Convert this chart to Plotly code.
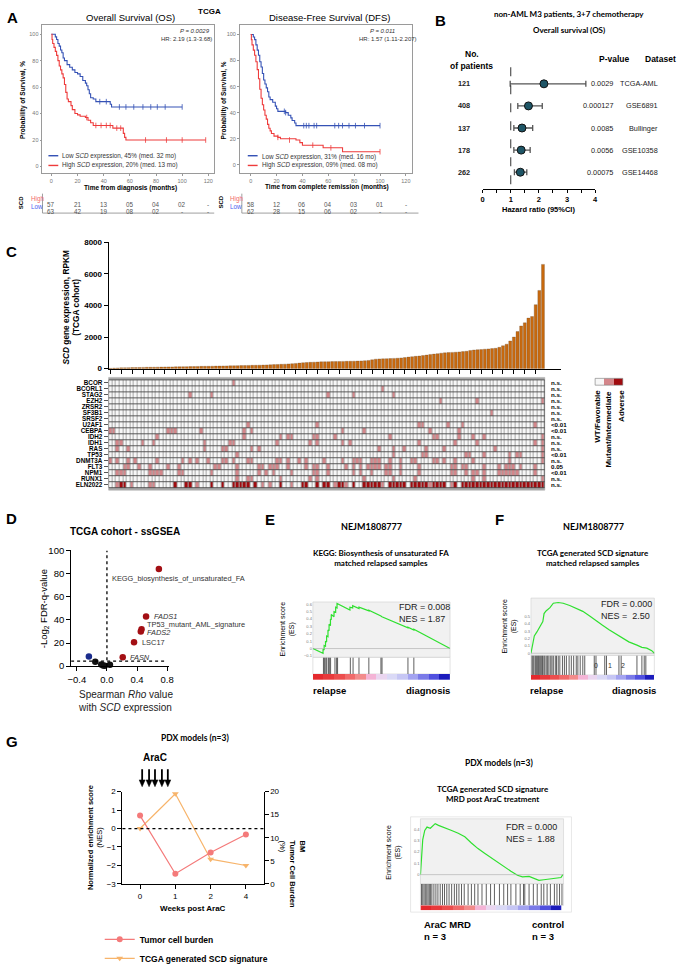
import plotly.graph_objects as go

W, H = 685, 973
ARIAL = "Liberation Sans, Arial, sans-serif"
CAL = "Lato, Liberation Sans, sans-serif"

# ---------------- A: Kaplan-Meier curves (TCGA) ----------------
OS_LOW_T = [0, 3, 4, 5, 6, 7, 8, 9, 10, 12, 14, 16, 18, 20, 22, 24, 26, 27, 28, 29, 30, 32, 34, 45, 46, 100]
OS_LOW_S = [100, 98, 96, 93, 91, 88, 86, 82, 80, 77, 75, 73, 71, 70, 68, 65, 63, 61, 58, 55, 52, 51, 49, 47, 45, 45]
OS_HIGH_T = [0, 0.5, 1, 2, 3, 4, 5, 6, 7, 8, 9, 10, 11, 12, 13, 15, 16, 18, 20, 22, 26, 28, 30, 32, 47, 55, 56, 57, 118]
OS_HIGH_S = [100, 96, 93, 90, 87, 84, 80, 76, 73, 70, 67, 62, 56, 51, 49, 46, 43, 40, 39, 38, 37, 35, 33, 31, 29, 25, 22, 20, 20]
OS_LOW_CT = [37, 42, 52, 57, 63, 70, 76, 81, 87, 100]
OS_LOW_CS = [49, 49, 45, 45, 45, 45, 45, 45, 45, 45]
OS_HIGH_CT = [27, 34, 38, 42, 45, 50, 53, 72, 88, 100, 118]
OS_HIGH_CS = [37, 31, 31, 31, 31, 29, 29, 20, 20, 20, 20]

DFS_LOW_T = [0, 2, 3, 4, 5, 6, 7, 8, 9, 10, 11, 12, 13, 14, 15, 17, 19, 20, 21, 27, 29, 31, 32, 34, 35, 100]
DFS_LOW_S = [100, 98, 96, 92, 88, 84, 79, 75, 70, 65, 62, 59, 56, 52, 50, 48, 45, 43, 41, 40, 38, 36, 34, 32, 30, 30]
DFS_HIGH_T = [0, 0.5, 1, 2, 3, 4, 5, 6, 7, 8, 9, 10, 11, 12, 13, 14, 15, 16, 18, 21, 23, 35, 38, 40, 56, 71, 100]
DFS_HIGH_S = [100, 96, 92, 88, 84, 79, 73, 66, 58, 51, 46, 42, 38, 35, 31, 28, 26, 24, 22, 21, 20, 19, 17, 15, 13, 10, 10]
DFS_LOW_CT = [26, 27, 41, 43, 45, 49, 51, 65, 68, 71, 76, 81, 88, 100]
DFS_LOW_CS = [41, 40, 30, 30, 30, 30, 30, 30, 30, 30, 30, 30, 30, 30]
DFS_HIGH_CT = [21, 30, 48, 62, 100]
DFS_HIGH_CS = [21, 19, 15, 13, 10]

RISK_TIMES = [0, 20, 40, 60, 80, 100, 120]
OS_RISK_HIGH = ["57", "21", "13", "05", "04", "02", "-"]
OS_RISK_LOW = ["63", "42", "19", "08", "02", "-", "-"]
DFS_RISK_HIGH = ["58", "12", "06", "04", "03", "01", "-"]
DFS_RISK_LOW = ["62", "28", "15", "06", "02", "-", "-"]

# ---------------- B: forest plot ----------------
B_PATIENTS = ["121", "408", "137", "178", "262"]
B_HR = [2.18, 1.63, 1.40, 1.37, 1.34]
B_LO = [0.98, 1.25, 1.11, 1.11, 1.13]
B_HI = [3.67, 2.12, 1.78, 1.69, 1.57]
B_PVAL = ["0.0029", "0.000127", "0.0085", "0.0056", "0.00075"]
B_DATASET = ["TCGA-AML", "GSE6891", "Bullinger", "GSE10358", "GSE14468"]

# ---------------- C: SCD expression + mutation map ----------------
SCD_RPKM = [20, 35, 45, 55, 60, 65, 70, 72, 75, 80,
            85, 88, 90, 95, 100, 105, 110, 112, 115, 120,
            125, 128, 130, 135, 140, 145, 148, 150, 155, 160,
            165, 170, 175, 180, 185, 190, 195, 200, 205, 210,
            215, 220, 228, 235, 245, 255, 265, 275, 285, 300,
            315, 330, 350, 375, 390, 400, 410, 420, 430, 435,
            440, 445, 450, 455, 460, 465, 470, 475, 480, 490,
            500, 520, 560, 600, 615, 620, 630, 640, 650, 660,
            680, 700, 730, 760, 780, 800, 830, 860, 900, 920,
            950, 980, 1000, 1020, 1030, 1040, 1060, 1080, 1100, 1150,
            1180, 1200, 1210, 1230, 1250, 1270, 1290, 1350, 1450, 1550,
            1750, 2000, 2350, 2700, 2900, 3200, 3300, 4050, 4950, 6600]

GENES = ["BCOR", "BCORL1", "STAG2", "EZH2", "ZRSR2", "SF3B1", "SRSF2", "U2AF1", "CEBPA",
         "IDH2", "IDH1", "RAS", "TP53", "DNMT3A", "FLT3", "NPM1", "RUNX1", "ELN2022"]
PVALS = ["n.s.", "n.s.", "n.s.", "n.s.", "n.s.", "n.s.", "n.s.", "&lt;0.01", "&lt;0.01",
         "n.s.", "n.s.", "n.s.", "&lt;0.01", "n.s.", "0.05", "&lt;0.01", "n.s.", "n.s."]
MUT_BCOR = [34]
MUT_BCORL1 = [75]
MUT_STAG2 = [22, 28, 60, 67, 78]
MUT_EZH2 = [91, 101, 119]
MUT_ZRSR2 = []
MUT_SF3B1 = [105]
MUT_SRSF2 = []
MUT_U2AF1 = [38, 57, 85, 86, 93, 97, 117]
MUT_CEBPA = [0, 1, 16, 17, 18, 25, 37, 39, 64, 70, 88, 96]
MUT_IDH2 = [13, 37, 47, 49, 50, 56, 57, 62, 77, 89, 90, 96, 100, 103, 119]
MUT_IDH1 = [2, 3, 9, 12, 26, 33, 34, 46, 55, 57, 64, 66, 85, 95, 101, 117, 119]
MUT_RAS = [2, 5, 26, 31, 32, 39, 41, 74, 78, 81, 87, 92, 106, 119]
MUT_TP53 = [35, 78, 86, 87, 98, 99, 103, 110, 112, 113, 119]
MUT_DNMT3A = [0, 2, 5, 7, 13, 20, 22, 24, 27, 31, 32, 34, 38, 39, 46, 47, 49, 52, 54, 59, 64, 67, 68,
              69, 72, 73, 74, 77, 80, 83, 84, 89, 90, 92, 95, 100, 110, 119]
MUT_FLT3 = [4, 5, 8, 11, 16, 19, 29, 30, 35, 41, 42, 44, 45, 46, 49, 54, 56, 57, 60, 65, 67, 69, 71,
            72, 73, 74, 76, 77, 80, 85, 94, 95, 97, 98, 103, 107, 109, 110, 111, 113, 117]
MUT_NPM1 = [2, 3, 4, 11, 12, 13, 14, 19, 20, 28, 35, 41, 43, 45, 50, 56, 57, 60, 67, 69, 72, 76, 77,
            80, 85, 94, 95, 98, 100, 101, 103, 107, 108, 109, 110, 111, 112, 117]
MUT_RUNX1 = [35, 38, 39, 47, 55, 57, 70, 78, 84, 100, 103, 119]
ELN_ADVERSE = [3, 4, 18, 21, 22, 28, 31, 34, 35, 36, 37, 38, 40, 47, 53, 54, 57, 59, 60, 63, 64, 67,
               70, 71, 72, 73, 74, 77, 78, 79, 80, 81, 83, 84, 85, 86, 87, 89, 90, 91, 92, 95, 97,
               98, 99, 100, 101, 102, 103, 104, 105, 106, 107, 108, 109, 110, 111, 112, 113, 114,
               115, 116, 117, 118, 119]
ELN_INTERMEDIATE = [2, 6, 11, 12, 24, 42, 44, 50, 62, 65, 75, 88, 94]

# ---------------- D: ssGSEA correlation ----------------
D_UP_RHO = [0.69, 0.52, 0.46, 0.45, 0.36, 0.21]
D_UP_Q = [84, 43, 32, 30, 20.7, 7.8]
D_DOWN_RHO = [-0.24]
D_DOWN_Q = [8.4]
D_NS_RHO = [-0.155, -0.076, -0.05, -0.03, 0.04]
D_NS_Q = [3.9, 1.5, 0.5, 0.3, 1.2]

# ---------------- E / F / G: GSEA running scores ----------------
E_RANK = [0, 7.4, 7.4, 8.2, 8.2, 9.2, 9.2, 10, 10, 11, 11, 11.8, 11.8, 12.8, 12.8, 13.4, 13.4,
          15.4, 15.4, 16.6, 16.6, 17.6, 17.6, 27, 27, 29, 29, 33.6, 33.6, 40.8, 40.8, 49.6, 50.3,
          69.3, 69.3, 73.6, 73.6, 100]
E_ES = [0, -0.065, -0.01, -0.02, 0.04, 0.03, 0.10, 0.09, 0.17, 0.16, 0.25, 0.24, 0.33, 0.31, 0.40,
        0.39, 0.46, 0.43, 0.50, 0.49, 0.56, 0.55, 0.61, 0.52, 0.56, 0.55, 0.58, 0.54, 0.56, 0.51,
        0.52, 0.44, 0.43, 0.28, 0.29, 0.25, 0.26, 0.0]
E_HITS = [7.7, 8.4, 9.4, 10.1, 11.3, 12, 12.9, 16.1, 17.3, 18, 27.3, 29.3, 33.6, 40.8, 49.6, 50.4,
          69.3, 73.6]

F_RANK = [0, 1.1, 2.7, 4.8, 7.4, 9.6, 10.6, 12.2, 15.4, 18.1, 22.1, 26.1, 31.4, 36.7, 42, 47.3,
          52.7, 58, 63.3, 68.6, 73.9, 79.3, 85.9, 89.9, 93.9, 97.9, 100]
F_ES = [0, 0.115, 0.235, 0.29, 0.37, 0.43, 0.54, 0.575, 0.62, 0.68, 0.69, 0.68, 0.65, 0.61, 0.57,
        0.51, 0.44, 0.38, 0.32, 0.265, 0.21, 0.155, 0.11, 0.08, 0.07, 0.035, 0.0]
F_HITS = [0.8, 1.6, 2.4, 3.5, 4.3, 5.1, 5.9, 6.6, 7.4, 8.2, 9, 9.6, 10.6, 11.4, 12.8, 13.6, 14.6,
          16, 17, 18.1, 19.7, 20.7, 22.1, 23.4, 25.5, 27.1, 28.7, 30.9, 32.7, 34.6, 36.7, 38, 39.9,
          42, 43.6, 51.3, 52.7, 59.8, 61.2, 71.3, 73.1, 85.9, 89.9, 91.8, 93.1]

G_RANK = [0, 0.7, 1.6, 3, 4.6, 6.9, 9.2, 10.3, 12.6, 17.2, 21.8, 26.4, 31, 35.6, 40.2, 44.8, 49.4,
          54, 58.6, 63.2, 67.8, 71.3, 75.9, 79.3, 82.8, 86.2, 90.8, 95.4, 98.2, 99.5]
G_ES = [0, 0.14, 0.31, 0.39, 0.42, 0.41, 0.44, 0.45, 0.435, 0.415, 0.39, 0.365, 0.335, 0.28, 0.23,
        0.19, 0.15, 0.105, 0.07, 0.03, -0.005, -0.02, -0.015, -0.035, -0.05, -0.045, -0.035, -0.03,
        -0.025, 0.0]
G_HITS = [0.7, 1.6, 2.5, 3.4, 4.4, 5.3, 6.2, 7.1, 8, 9.4, 10.8, 12.2, 13.8, 15.4, 16.8, 18.4, 20,
          21.8, 23.7, 25.3, 26.9, 28.7, 30.6, 33.3, 35.6, 37.9, 40.2, 43, 46, 49, 51.7, 55.2, 58.2,
          60.9, 63.2, 66.7, 69.7, 72, 72.9, 75.9, 78.9, 81.6, 84.4, 86.2, 88.5, 90.8, 93.6, 95.4,
          97.2, 98.9]

# ---------------- G: PDX time course ----------------
G_WEEKS = ["0", "1", "2", "4"]
G_BURDEN = [14.8, 2.2, 6.8, 10.7]
G_NES = [0.0, 1.88, -1.66, -2.0]

BLUE = "#3552b5"
RED = "#ee3b3b"
GSEA_RAMP = ["#e42a2e", "#e83a3c", "#ec4e4e", "#f06a6a", "#f28b8b", "#f4b4d6", "#ead6f0",
             "#dad9f6", "#c6c6f4", "#a3a3f0", "#7a7ae8", "#5050df", "#1c1cbc"]

fig = go.Figure()
ann, shp = [], []
lay = dict(width=W, height=H, margin=dict(l=0, r=0, t=0, b=0), paper_bgcolor="white",
           plot_bgcolor="rgba(0,0,0,0)", font=dict(family=ARIAL, color="#000"), bargap=0.18,
           showlegend=True)


def X(p):
    return p / W


def Y(p):
    return 1 - p / H


def dx(a, b):
    return [a / W, b / W]


def dy(top, bot):
    return [1 - bot / H, 1 - top / H]


def text(x, y, s, size=8, color="#000", family=ARIAL, xa="center", ya="middle", angle=0,
         align="center", xref="paper", yref="paper"):
    ann.append(dict(x=X(x) if xref == "paper" else x, y=Y(y) if yref == "paper" else y,
                    xref=xref, yref=yref, text=s, showarrow=False, textangle=angle, align=align,
                    font=dict(size=size, color=color, family=family), xanchor=xa, yanchor=ya))


def line(x0, y0, x1, y1, color="#000", width=1, dash="solid"):
    shp.append(dict(type="line", xref="paper", yref="paper", x0=X(x0), x1=X(x1), y0=Y(y0), y1=Y(y1),
                    line=dict(color=color, width=width, dash=dash)))


def rect(x0, y0, x1, y1, fill="rgba(0,0,0,0)", color="#999", width=0.8, layer="below"):
    shp.append(dict(type="rect", xref="paper", yref="paper", x0=X(x0), x1=X(x1), y0=Y(y1), y1=Y(y0),
                    fillcolor=fill, line=dict(color=color, width=width), layer=layer))


def hidden(dom, anchor, rng=None):
    d = dict(domain=dom, anchor=anchor, visible=False, showgrid=False, zeroline=False)
    if rng is not None:
        d["range"] = rng
    return d


# ======================= PANEL A =======================
def km(n, xd, yd, xr, yr, low, high, low_c, high_c):
    s = "" if n == 1 else str(n)
    common = dict(ticks="outside", ticklen=2, tickcolor="#999", showline=True, mirror=True,
                  linecolor="#9a9a9a", linewidth=0.8, tickfont=dict(size=5.5, color="#777"),
                  showgrid=False, zeroline=False)
    lay["xaxis" + s] = dict(domain=xd, anchor="y" + s, range=xr, tickvals=RISK_TIMES, **common)
    lay["yaxis" + s] = dict(domain=yd, anchor="x" + s, range=yr, tickvals=[0, 20, 40, 60, 80, 100], **common)
    for (t, sv), (ct, cs), col in ((low, low_c, BLUE), (high, high_c, RED)):
        fig.add_trace(go.Scatter(x=t, y=sv, mode="lines", line=dict(shape="hv", color=col, width=1.1),
                                 xaxis="x" + s, yaxis="y" + s, showlegend=False, hoverinfo="skip"))
        fig.add_trace(go.Scatter(x=ct, y=cs, mode="markers", xaxis="x" + s, yaxis="y" + s,
                                 marker=dict(symbol="line-ns", size=4, line=dict(width=0.8, color=col)),
                                 showlegend=False, hoverinfo="skip"))


km(1, dx(39, 213), dy(20, 172), [-6.8, 124.5], [-5.1, 106.6],
   (OS_LOW_T, OS_LOW_S), (OS_HIGH_T, OS_HIGH_S), (OS_LOW_CT, OS_LOW_CS), (OS_HIGH_CT, OS_HIGH_CS))
km(2, dx(239, 413), dy(20, 172), [-8.4, 124.4], [-6.5, 106.9],
   (DFS_LOW_T, DFS_LOW_S), (DFS_HIGH_T, DFS_HIGH_S), (DFS_LOW_CT, DFS_LOW_CS), (DFS_HIGH_CT, DFS_HIGH_CS))

text(9, 12, "<b>A</b>", size=15)
text(208, 6, "<b>TCGA</b>", size=8)
text(128, 12, "Overall Survival (OS)", size=9.5)
text(330, 12, "Disease-Free Survival (DFS)", size=9.5)
text(211, 26, "<i>P = 0.0029</i>", size=6, color="#333", xa="right")
text(213, 34, "HR: 2.19 (1.3-3.68)", size=6, color="#333", xa="right")
text(398, 26, "<i>P = 0.011</i>", size=6, color="#333", xa="right")
text(421, 34, "HR: 1.57 (1.11-2.207)", size=6, color="#333", xa="right")
for lx in (45, 247):
    line(lx, 154, lx + 10, 154, BLUE, 1.4)
    line(lx, 164, lx + 10, 164, RED, 1.4)
text(57, 154, "Low <i>SCD</i> expression, 45% (med. 32 mo)", size=6.3, color="#333", xa="left")
text(57, 164, "High <i>SCD</i> expression, 20% (med. 13 mo)", size=6.3, color="#333", xa="left")
text(259, 155, "Low <i>SCD</i> expression, 31% (med. 16 mo)", size=6.3, color="#333", xa="left")
text(259, 164, "High <i>SCD</i> expression, 09% (med. 08 mo)", size=6.3, color="#333", xa="left")
text(128, 187, "<b>Time from diagnosis (months)</b>", size=6.5)
text(327, 186, "<b>Time from complete remission (months)</b>", size=6.5)
text(20, 97, "<b>Probability of Survival, %</b>", size=6.5, angle=-90)
text(223, 97, "<b>Probability of Survival, %</b>", size=6.5, angle=-90)

# number at risk tables
for xref, xl, xr_, hi, lo in (("x", 39, 213, OS_RISK_HIGH, OS_RISK_LOW),
                               ("x2", 241, 420, DFS_RISK_HIGH, DFS_RISK_LOW)):
    text(xl - 21, 202, "<b>SCD</b>", size=6, angle=-90)
    text(xl - 14, 198, "High", size=6.3, color="#f26b6b", xa="left")
    text(xl - 14, 206, "Low", size=6.3, color="#4a63f0", xa="left")
    line(xl, 193, xl, 213, "#888", 0.8)
    line(xl, 213, xr_, 213, "#888", 0.8)
    for t, a, b in zip(RISK_TIMES, hi, lo):
        ann.append(dict(x=t, y=Y(198), xref=xref, yref="paper", text=a, showarrow=False,
                        font=dict(size=6.3, color="#555", family=ARIAL)))
        ann.append(dict(x=t, y=Y(206), xref=xref, yref="paper", text=b, showarrow=False,
                        font=dict(size=6.3, color="#555", family=ARIAL)))

# ======================= PANEL B =======================
rows = [len(B_HR) - i for i in range(len(B_HR))]
fig.add_trace(go.Scatter(
    x=B_HR, y=rows, mode="markers", xaxis="x3", yaxis="y3", showlegend=False, hoverinfo="skip",
    error_x=dict(type="data", symmetric=False, array=[h - m for h, m in zip(B_HI, B_HR)],
                 arrayminus=[m - l for m, l in zip(B_HR, B_LO)], color="#555", thickness=1.3, width=3),
    marker=dict(size=8, color="#1e5566", line=dict(color="#111", width=1))))
lay["xaxis3"] = dict(domain=dx(485, 599), anchor="y3", range=[0, 4], tickvals=[0, 1, 2, 3, 4],
                     ticks="outside", ticklen=3, tickcolor="#000", showline=True, linecolor="#000",
                     linewidth=1, showgrid=False, zeroline=False,
                     tickfont=dict(size=7.5, family=ARIAL, color="#000"),
                     ticktext=["<b>0</b>", "<b>1</b>", "<b>2</b>", "<b>3</b>", "<b>4</b>"],
                     minor=dict(ticks="outside", dtick=0.5, ticklen=3, tickcolor="#000"))
lay["yaxis3"] = hidden(dy(63, 188), "x3", [0.25, 5.75])
shp.append(dict(type="line", xref="x3", yref="paper", x0=1, x1=1, y0=Y(63), y1=Y(188),
                line=dict(color="#333", width=1, dash="dash")))
text(442, 15, "<b>B</b>", size=15)
text(573, 8, "<b>non-AML M3 patients, 3+7 chemotherapy</b>", size=8, family=CAL)
text(573, 25, "<b>Overall survival (OS)</b>", size=8, family=CAL)
text(474, 49, "<b>No.</b>", size=8.5)
text(474, 62, "<b>of patients</b>", size=8.5)
text(619, 55, "<b>P-value</b>", size=8.5)
text(665, 55, "<b>Dataset</b>", size=8.5)
for r, n, p, d in zip(rows, B_PATIENTS, B_PVAL, B_DATASET):
    for xx, s in ((474, "<b>" + n + "</b>"), (619, p), (665, d)):
        ann.append(dict(x=X(xx), y=r, xref="paper", yref="y3", text=s, showarrow=False,
                        font=dict(size=7.3, color="#222", family=ARIAL)))
text(542, 209, "<b>Hazard ratio (95%CI)</b>", size=7.5)

# ======================= PANEL C =======================
idx = list(range(len(SCD_RPKM)))
fig.add_trace(go.Bar(x=idx, y=SCD_RPKM, xaxis="x4", yaxis="y4", showlegend=False, hoverinfo="skip",
                     marker=dict(color="#c8690e", line=dict(color="#6b4a2c", width=0.3))))
lay["xaxis4"] = dict(domain=dx(106, 564), anchor="y4", range=[-0.5, 123.85], tickvals=idx[::3],
                     ticks="outside", ticklen=4, tickcolor="#000", showticklabels=False, showline=True,
                     linecolor="#000", linewidth=1, showgrid=False, zeroline=False)
lay["yaxis4"] = dict(domain=dy(243, 373), anchor="x4", range=[0, 8000],
                     tickvals=[0, 2000, 4000, 6000, 8000], ticks="outside", ticklen=4, tickcolor="#000",
                     showline=True, linecolor="#000", linewidth=1, showgrid=False, zeroline=False,
                     tickfont=dict(size=8, family="Liberation Sans", color="#000"),
                     ticktext=["<b>0</b>", "<b>2000</b>", "<b>4000</b>", "<b>6000</b>", "<b>8000</b>"])
text(8, 252, "<b>C</b>", size=15)
text(68, 310, "<b><i>SCD</i> gene expression, RPKM<br>(TCGA cohort)</b>", size=8.3, angle=-90)

mut_lists = [MUT_BCOR, MUT_BCORL1, MUT_STAG2, MUT_EZH2, MUT_ZRSR2, MUT_SF3B1, MUT_SRSF2, MUT_U2AF1,
             MUT_CEBPA, MUT_IDH2, MUT_IDH1, MUT_RAS, MUT_TP53, MUT_DNMT3A, MUT_FLT3, MUT_NPM1, MUT_RUNX1]
zmat = [[1 if i in m else 0 for i in idx] for m in mut_lists]
zmat.append([2 if i in ELN_ADVERSE else (1 if i in ELN_INTERMEDIATE else 0) for i in idx])
HEAT_CS = [[0, "#f7f7f7"], [0.33, "#f7f7f7"], [0.34, "#d4868a"], [0.66, "#d4868a"],
           [0.67, "#a00b0f"], [1, "#a00b0f"]]
rect(106, 382, 548, 498, fill="#a8a8a8", color="#a8a8a8", width=0.5)
fig.add_trace(go.Heatmap(z=zmat, x=idx, y=GENES, xaxis="x5", yaxis="y5", colorscale=HEAT_CS,
                         zmin=0, zmax=2, showscale=False, xgap=1, ygap=0, hoverinfo="skip"))
# row separators
for k in range(len(GENES) + 1):
    shp.append(dict(type="line", xref="x5", yref="y5", x0=-0.5, x1=119.5, y0=k - 0.5, y1=k - 0.5,
                    line=dict(color="#4a4a4a", width=0.9), layer="above"))
shp.append(dict(type="line", xref="x5", yref="y5", x0=-0.5, x1=-0.5, y0=-0.5, y1=len(GENES) - 0.5,
                line=dict(color="#4a4a4a", width=0.9), layer="above"))
shp.append(dict(type="line", xref="x5", yref="y5", x0=119.5, x1=119.5, y0=-0.5, y1=len(GENES) - 0.5,
                line=dict(color="#4a4a4a", width=0.9), layer="above"))
lay["xaxis5"] = hidden(dx(106, 548), "y5", [-0.5, 119.5])
lay["yaxis5"] = dict(domain=dy(382, 498), anchor="x5", type="category", autorange="reversed",
                     ticks="outside", ticklen=4, tickcolor="#555", showline=False, showgrid=False,
                     zeroline=False, tickfont=dict(size=6.3, family=ARIAL, color="#000"),
                     tickvals=GENES, ticktext=["<b>" + g + "</b>" for g in GENES])
for g, p in zip(GENES, PVALS):
    ann.append(dict(x=X(552), y=g, xref="paper", yref="y5", text="<b>" + p + "</b>", showarrow=False,
                    xanchor="left", font=dict(size=6.2, color="#000", family=ARIAL)))
fig.add_trace(go.Heatmap(z=[[0, 1, 2]], xaxis="x6", yaxis="y6", colorscale=HEAT_CS, zmin=0, zmax=2,
                         showscale=False, hoverinfo="skip"))
lay["xaxis6"] = hidden(dx(599, 627), "y6")
lay["yaxis6"] = hidden(dy(383, 390), "x6")
rect(599, 383, 627, 390, color="#777", width=0.6, layer="above")
text(602, 393, "<b>WT/Favorable</b>", size=8, angle=-90, ya="top")
text(613, 393, "<b>Mutant/Intermediate</b>", size=8, angle=-90, ya="top")
text(625, 393, "<b>Adverse</b>", size=8, angle=-90, ya="top")

# ======================= PANEL D =======================
for xs, ys, col in ((D_NS_RHO, D_NS_Q, "#111111"), (D_DOWN_RHO, D_DOWN_Q, "#1a2c8c"),
                    (D_UP_RHO, D_UP_Q, "#a30f14")):
    fig.add_trace(go.Scatter(x=xs, y=ys, mode="markers", xaxis="x7", yaxis="y7", showlegend=False,
                             hoverinfo="skip", cliponaxis=False, marker=dict(size=6.5, color=col)))
lay["xaxis7"] = dict(domain=dx(68, 167), anchor="y7", range=[-0.476, 0.822], tickvals=[-0.4, 0, 0.4, 0.8],
                     tickformat=".1f", ticks="outside", ticklen=4, tickcolor="#000", showline=True,
                     linecolor="#000", linewidth=1, showgrid=False, zeroline=False,
                     tickfont=dict(size=9.5, color="#000"))
lay["yaxis7"] = dict(domain=dy(560, 679), anchor="x7", range=[0, 100], tickvals=[0, 20, 40, 60, 80, 100],
                     ticks="outside", ticklen=4, tickcolor="#000", showline=True, linecolor="#000",
                     linewidth=1, showgrid=False, zeroline=False, tickfont=dict(size=9.5, color="#000"))
shp.append(dict(type="line", xref="x7", yref="y7", x0=0, x1=0, y0=0, y1=100,
                line=dict(color="#000", width=1.3, dash="dot")))
shp.append(dict(type="line", xref="x7", yref="y7", x0=-0.476, x1=0.8, y0=4.32, y1=4.32,
                line=dict(color="#000", width=1.3, dash="dot")))
text(8, 527, "<b>D</b>", size=15)
text(123, 541, "<b>TCGA cohort - ssGSEA</b>", size=10)
text(40, 620, "-Log<sub>2</sub> FDR-q-value", size=9.5, angle=-90)
text(107, 589, "KEGG_biosynthesis_of_unsaturated_FA", size=7.4, color="#333", xa="left")
text(150, 628, "<i>FADS1</i>", size=7.4, color="#333", xa="left")
text(143, 636, "TP53_mutant_AML_signature", size=7.4, color="#333", xa="left")
text(143, 644, "<i>FADS2</i>", size=7.4, color="#333", xa="left")
text(138, 655, "LSC17", size=7.4, color="#333", xa="left")
text(126, 670, "<i>FASN</i>", size=7.4, color="#333", xa="left")
text(73, 700, "Spearman <i>Rho</i> value<br>with <i>SCD</i> expression", size=10, xa="left",
     ya="top", align="left", color="#222")


# ======================= GSEA helper (E, F, G) =======================
def gsea(n, x0, x1, es_top, es_bot, hit_bot, bar_bot, yr, yticks, rank, es, hits, bx0=None, bx1=None):
    a, b, c = str(n), str(n + 1), str(n + 2)
    rect(x0, es_top, x1, es_bot, fill="#f1f1f1", color="#cfcfcf", width=0.6)
    rect(x0, es_bot, x1, hit_bot, fill="#ffffff", color="#cfcfcf", width=0.6)
    shp.append(dict(type="line", xref="paper", yref="y" + a, x0=X(x0), x1=X(x1), y0=0, y1=0,
                    line=dict(color="#aaaaaa", width=0.6)))
    fig.add_trace(go.Scatter(x=rank, y=es, mode="lines", xaxis="x" + a, yaxis="y" + a, showlegend=False,
                             hoverinfo="skip", line=dict(color="#2fe02f", width=1.2)))
    lay["xaxis" + a] = hidden(dx(x0, x1), "y" + a, [0, 100])
    lay["yaxis" + a] = dict(domain=dy(es_top, es_bot), anchor="x" + a, range=yr, tickvals=yticks,
                            showline=False, showgrid=False, zeroline=False, ticks="",
                            tickfont=dict(size=4, color="#777"))
    hx, hy = [], []
    for h in hits:
        hx += [h, h, None]
        hy += [0, 1, None]
    fig.add_trace(go.Scatter(x=hx, y=hy, mode="lines", xaxis="x" + b, yaxis="y" + b, showlegend=False,
                             hoverinfo="skip", line=dict(color="rgba(20,20,20,0.85)", width=0.8)))
    lay["xaxis" + b] = hidden(dx(x0, x1), "y" + b, [0, 100])
    lay["yaxis" + b] = hidden(dy(es_bot, hit_bot), "x" + b, [0, 1])
    cs = [[i / (len(GSEA_RAMP) - 1), col] for i, col in enumerate(GSEA_RAMP)]
    fig.add_trace(go.Heatmap(z=[list(range(len(GSEA_RAMP)))], xaxis="x" + c, yaxis="y" + c, colorscale=cs,
                             showscale=False, hoverinfo="skip"))
    lay["xaxis" + c] = hidden(dx(bx0 or x0, bx1 or x1), "y" + c)
    lay["yaxis" + c] = hidden(dy(hit_bot, bar_bot), "x" + c)


# E
gsea(8, 313, 452, 613, 670, 687, 693, [-0.12, 0.63], [-0.1, 0, 0.1, 0.2, 0.3, 0.4, 0.5, 0.6],
     E_RANK, E_ES, E_HITS)
text(270, 528, "<b>E</b>", size=15)
text(372, 535, "<b>NEJM1808777</b>", size=9, family=CAL)
text(382, 568, "<b>KEGG: Biosynthesis of unsaturated FA<br>matched relapsed samples</b>", size=8, family=CAL)
text(287, 641, "Enrichment score<br>(ES)", size=7, angle=-90)
text(398, 611, "FDR = 0.008<br>NES = 1.87", size=9, xa="left", ya="top", align="left", color="#222")
text(330, 704, "<b>relapse</b>", size=9.5)
text(430, 704, "<b>diagnosis</b>", size=9.5)

# F
gsea(11, 534, 659, 609, 668, 688, 693, [-0.03, 0.75], [0, 0.1, 0.2, 0.3, 0.4, 0.5],
     F_RANK, F_ES, F_HITS)
text(502, 528, "<b>F</b>", size=15)
text(597, 535, "<b>NEJM1808777</b>", size=9, family=CAL)
text(597, 568, "<b>TCGA generated SCD signature<br>matched relapsed samples</b>", size=8, family=CAL)
text(512, 638, "Enrichment score<br>(ES)", size=7, angle=-90)
text(603, 608, "FDR = 0.000<br>NES =  2.50", size=9, xa="left", ya="top", align="left", color="#222")
for r, s in ((52.7, "0"), (63.8, "1"), (74.5, "2")):
    ann.append(dict(x=r, y=0.5, xref="x12", yref="y12", text=s, showarrow=False,
                    font=dict(size=7, color="#333", family=ARIAL)))
text(550, 704, "<b>relapse</b>", size=9.5)
text(638, 704, "<b>diagnosis</b>", size=9.5)

# G right
gsea(14, 422, 567, 836, 903, 925, 930, [-0.082, 0.493], [0, 0.1, 0.2, 0.3, 0.4],
     G_RANK, G_ES, G_HITS, 422, 565)
rect(412, 834, 575, 932, color="#e2e2e2", width=0.8)
text(502, 779, "<b>PDX models (n=3)</b>", size=8.5, family=CAL)
text(496, 811, "<b>TCGA generated SCD signature<br>MRD post AraC treatment</b>", size=8, family=CAL)
text(395, 870, "Enrichment score<br>(ES)", size=7, angle=-90)
text(507, 837, "FDR = 0.000<br>NES =  1.88", size=9, xa="left", ya="top", align="left", color="#222")
text(424, 937, "<b>AraC MRD<br>n = 3</b>", size=9.5, xa="left", ya="top", align="left")
text(533, 937, "<b>control<br>n = 3</b>", size=9.5, xa="left", ya="top", align="left")

# ======================= PANEL G left =======================
fig.add_trace(go.Scatter(x=G_WEEKS, y=G_BURDEN, mode="lines+markers", xaxis="x17", yaxis="y18",
                         name="<b>Tumor cell burden</b>", hoverinfo="skip", cliponaxis=False,
                         line=dict(color="#f47a7a", width=1.2), marker=dict(size=6, color="#f47a7a")))
fig.add_trace(go.Scatter(x=G_WEEKS, y=G_NES, mode="lines+markers", xaxis="x17", yaxis="y17",
                         name="<b>TCGA generated SCD signature</b>", hoverinfo="skip", cliponaxis=False,
                         line=dict(color="#f7b46b", width=1.2),
                         marker=dict(size=6, color="#f7b46b", symbol="triangle-down")))
g_common = dict(ticks="outside", ticklen=4, tickcolor="#000", showline=True, linecolor="#000",
                linewidth=1, showgrid=False, zeroline=False, tickfont=dict(size=8, color="#000"))
lay["xaxis17"] = dict(domain=dx(120, 263), anchor="y17", type="category", range=[-0.5, 3.5], **g_common)
lay["yaxis17"] = dict(domain=dy(808, 903), anchor="x17", range=[-3, 2], dtick=1, **g_common)
lay["yaxis18"] = dict(overlaying="y17", side="right", anchor="x17", range=[0, 20], dtick=5, **g_common)
shp.append(dict(type="line", xref="x17 domain", yref="y17", x0=0, x1=1, y0=0, y1=0,
                line=dict(color="#000", width=1.2, dash="dot")))
text(8, 757, "<b>G</b>", size=15)
text(194, 753, "<b>PDX models (n=3)</b>", size=8.5, family=CAL)
text(153, 773, "<b>AraC</b>", size=10)
for ax_x in (140, 147, 153, 160, 166):
    line(ax_x, 785, ax_x, 797, "#000", 1.8)
    shp.append(dict(type="path", xref="paper", yref="paper",
                    path="M {} {} L {} {} L {} {} Z".format(X(ax_x - 3), Y(796), X(ax_x + 3), Y(796),
                                                            X(ax_x), Y(803)),
                    fillcolor="#000", line=dict(color="#000", width=0.5)))
text(92, 855, "<b>Normalized enrichment score</b><br>(NES)", size=7.5, angle=-90)
text(292, 856, "<b>BM</b><br><b>Tumor Cell Burden</b><br>(%)", size=7.5, angle=90, ya="top", align="left")
text(192, 928, "<b>Weeks post AraC</b>", size=8)
lay["legend"] = dict(x=X(97), y=Y(945), xanchor="left", yanchor="top", bgcolor="rgba(0,0,0,0)",
                     font=dict(size=8.5, family=ARIAL, color="#000"), itemwidth=30, tracegroupgap=0)

lay["annotations"] = ann
lay["shapes"] = shp
fig.update_layout(**lay)
# the page body has an 8px default margin; drop it so the figure sits at the window origin
fig.write_html("out.html", config={"displayModeBar": False},
               post_script="document.body.style.margin='0px';")
